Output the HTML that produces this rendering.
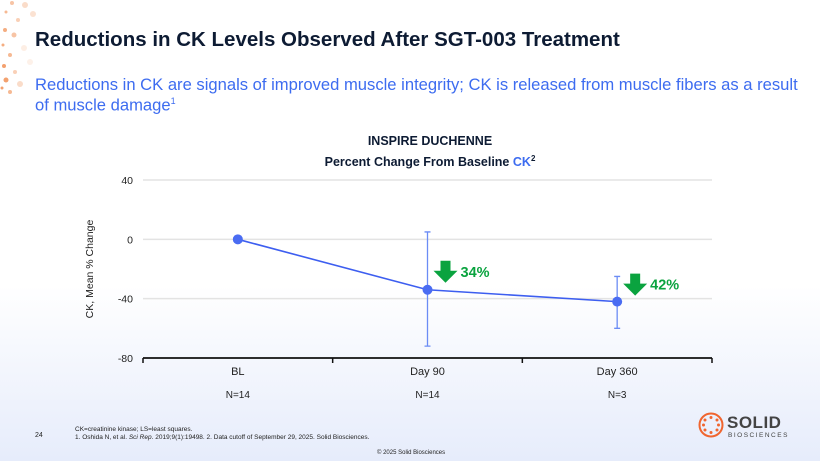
<!DOCTYPE html>
<html><head><meta charset="utf-8">
<style>
html,body{margin:0;padding:0}
body{width:820px;height:461px;position:relative;overflow:hidden;font-family:"Liberation Sans",sans-serif;
background:linear-gradient(to bottom,#ffffff 0%,#ffffff 62%,#e6ecfb 100%)}
.abs{position:absolute}
</style></head><body>
<svg class="abs" style="left:0;top:0" width="60" height="110">
<g fill="#f08a4b">
<circle cx="12" cy="3" r="2" opacity=".5"/><circle cx="25" cy="5" r="3" opacity=".3"/><circle cx="33" cy="14" r="3" opacity=".25"/>
<circle cx="6" cy="12" r="1.5" opacity=".6"/><circle cx="18" cy="20" r="2" opacity=".4"/><circle cx="5" cy="30" r="2" opacity=".7"/>
<circle cx="14" cy="35" r="2.5" opacity=".5"/><circle cx="3" cy="45" r="1.5" opacity=".7"/><circle cx="10" cy="55" r="2" opacity=".6"/>
<circle cx="4" cy="66" r="2" opacity=".8"/><circle cx="15" cy="72" r="2" opacity=".4"/><circle cx="6" cy="80" r="2.5" opacity=".8"/>
<circle cx="20" cy="84" r="3" opacity=".3"/><circle cx="10" cy="92" r="2" opacity=".6"/><circle cx="2" cy="88" r="1.5" opacity=".8"/>
<circle cx="24" cy="48" r="3" opacity=".15"/><circle cx="30" cy="62" r="3" opacity=".12"/>
</g></svg>
<div class="abs" style="left:35px;top:28px;font-size:20.5px;font-weight:bold;color:#0d1b33">Reductions in CK Levels Observed After SGT-003 Treatment</div>
<div class="abs" style="left:35px;top:76px;white-space:nowrap;font-size:16.6px;line-height:17px;color:#3d6cf0">Reductions in CK are signals of improved muscle integrity; CK is released from muscle fibers as a result<br>of muscle damage<sup style="font-size:9px">1</sup></div>
<div class="abs" style="left:240px;width:380px;top:132px;text-align:center;font-size:12.5px;font-weight:bold;color:#0d1b33;line-height:18px">INSPIRE DUCHENNE<br>Percent Change From Baseline <span style="color:#3d6cf0">CK</span><sup style="font-size:8px">2</sup></div>
<svg id="chart" class="abs" style="left:0;top:0" width="820" height="461"></svg>
<div class="abs" style="left:75px;top:426px;font-size:6.5px;color:#222;line-height:8px">CK=creatinine kinase; LS=least squares.<br>1. Oshida N, et al. <i>Sci Rep</i>. 2019;9(1):19498. 2. Data cutoff of September 29, 2025. Solid Biosciences.</div>
<div class="abs" style="left:35px;top:432px;font-size:7px;color:#222">24</div>
<div class="abs" style="left:377px;top:450px;font-size:6px;color:#222">© 2025 Solid Biosciences</div>
<svg class="abs" style="left:698px;top:412px" width="26" height="26">
<circle cx="13" cy="13" r="11.5" fill="none" stroke="#f0652f" stroke-width="2"/>
<g fill="#f0652f"><circle cx="13" cy="5.5" r="1.5"/><circle cx="19" cy="8" r="1.5"/><circle cx="20.5" cy="13" r="1.5"/><circle cx="19" cy="18" r="1.5"/><circle cx="13" cy="20.5" r="1.5"/><circle cx="7" cy="18" r="1.5"/><circle cx="5.5" cy="13" r="1.5"/><circle cx="7" cy="8" r="1.5"/></g></svg>
<div class="abs" style="left:727px;top:413px;font-size:17px;font-weight:bold;color:#444;letter-spacing:0.5px">SOLID</div>
<div class="abs" style="left:728px;top:432px;font-size:6.5px;color:#444;letter-spacing:1.5px">BIOSCIENCES</div>
<script>
const categories=["BL","Day 90","Day 360"];
const nLabels=["N=14","N=14","N=3"];
const means=[0,-34,-42];
const errHigh=[null,5,-25];
const errLow=[null,-72,-60];
const reductions=[null,"34%","42%"];
const yTicks=[40,0,-40,-80];
const svg=document.getElementById('chart');
const NS="http://www.w3.org/2000/svg";
const x0=143,x1=712,yTop=180,yBot=358,vMax=40,vMin=-80;
const band=(x1-x0)/categories.length;
function xs(i){return x0+band*(i+0.5);}
function ys(v){return yTop+(vMax-v)/(vMax-vMin)*(yBot-yTop);}
function mk(tag,attrs,parent){const e=document.createElementNS(NS,tag);for(const k in attrs)e.setAttribute(k,attrs[k]);(parent||svg).appendChild(e);return e;}
yTicks.forEach(t=>{
  if(t!==vMin){const g=mk('line',{x1:x0,x2:x1,y1:ys(t),y2:ys(t),stroke:'#e3e3e3','stroke-width':1.5});
  
  }
  const l=mk('text',{x:x0-10,y:ys(t)+4,'text-anchor':'end','font-size':10.5,fill:'#222','font-family':'Liberation Sans'});
  l.textContent=t;
  
  
});
const ax=mk('line',{x1:x0,x2:x1,y1:yBot,y2:yBot,stroke:'#111','stroke-width':1.8});


for(let i=0;i<=categories.length;i++){const t=mk('line',{x1:x0+band*i,x2:x0+band*i,y1:yBot,y2:yBot+5,stroke:'#111','stroke-width':1.5});

}
const yt=mk('text',{transform:`translate(93,${ys(-20)}) rotate(-90)`,'text-anchor':'middle','font-size':10.5,fill:'#222','font-family':'Liberation Sans'});
yt.textContent="CK, Mean % Change";


categories.forEach((c,i)=>{
  const a=mk('text',{x:xs(i),y:375,'text-anchor':'middle','font-size':11,fill:'#222','font-family':'Liberation Sans'});a.textContent=c;
  
  
  const b=mk('text',{x:xs(i),y:398,'text-anchor':'middle','font-size':10,fill:'#222','font-family':'Liberation Sans'});b.textContent=nLabels[i];
  
  
});
means.forEach((m,i)=>{
  if(errHigh[i]===null)return;
  const x=xs(i);
  const e=mk('path',{d:`M${x},${ys(errHigh[i])}V${ys(errLow[i])}M${x-3},${ys(errHigh[i])}H${x+3}M${x-3},${ys(errLow[i])}H${x+3}`,stroke:'#6b8cf5','stroke-width':1.3,fill:'none'});
  
  
});
const line=mk('polyline',{points:means.map((m,i)=>xs(i)+','+ys(m)).join(' '),fill:'none',stroke:'#3d5ef0','stroke-width':1.6});


means.forEach((m,i)=>{
  const c=mk('circle',{cx:xs(i),cy:ys(m),r:5,fill:'#4a6cf2'});
  
  
  if(reductions[i]){
    const ax2=xs(i)+18,ay=i===1?ys(m)-29:ys(m)-28;
    const ar=mk('path',{d:`M${ax2-5},${ay}h10v10h7l-12,12l-12,-12h7z`,fill:'#0aa33f'});
    
    
    const t=mk('text',{x:ax2+15,y:ay+16,'font-size':14.5,'font-weight':'bold',fill:'#0aa33f','font-family':'Liberation Sans'});
    t.textContent=reductions[i];
    
    
  }
});
</script>
</body></html>
